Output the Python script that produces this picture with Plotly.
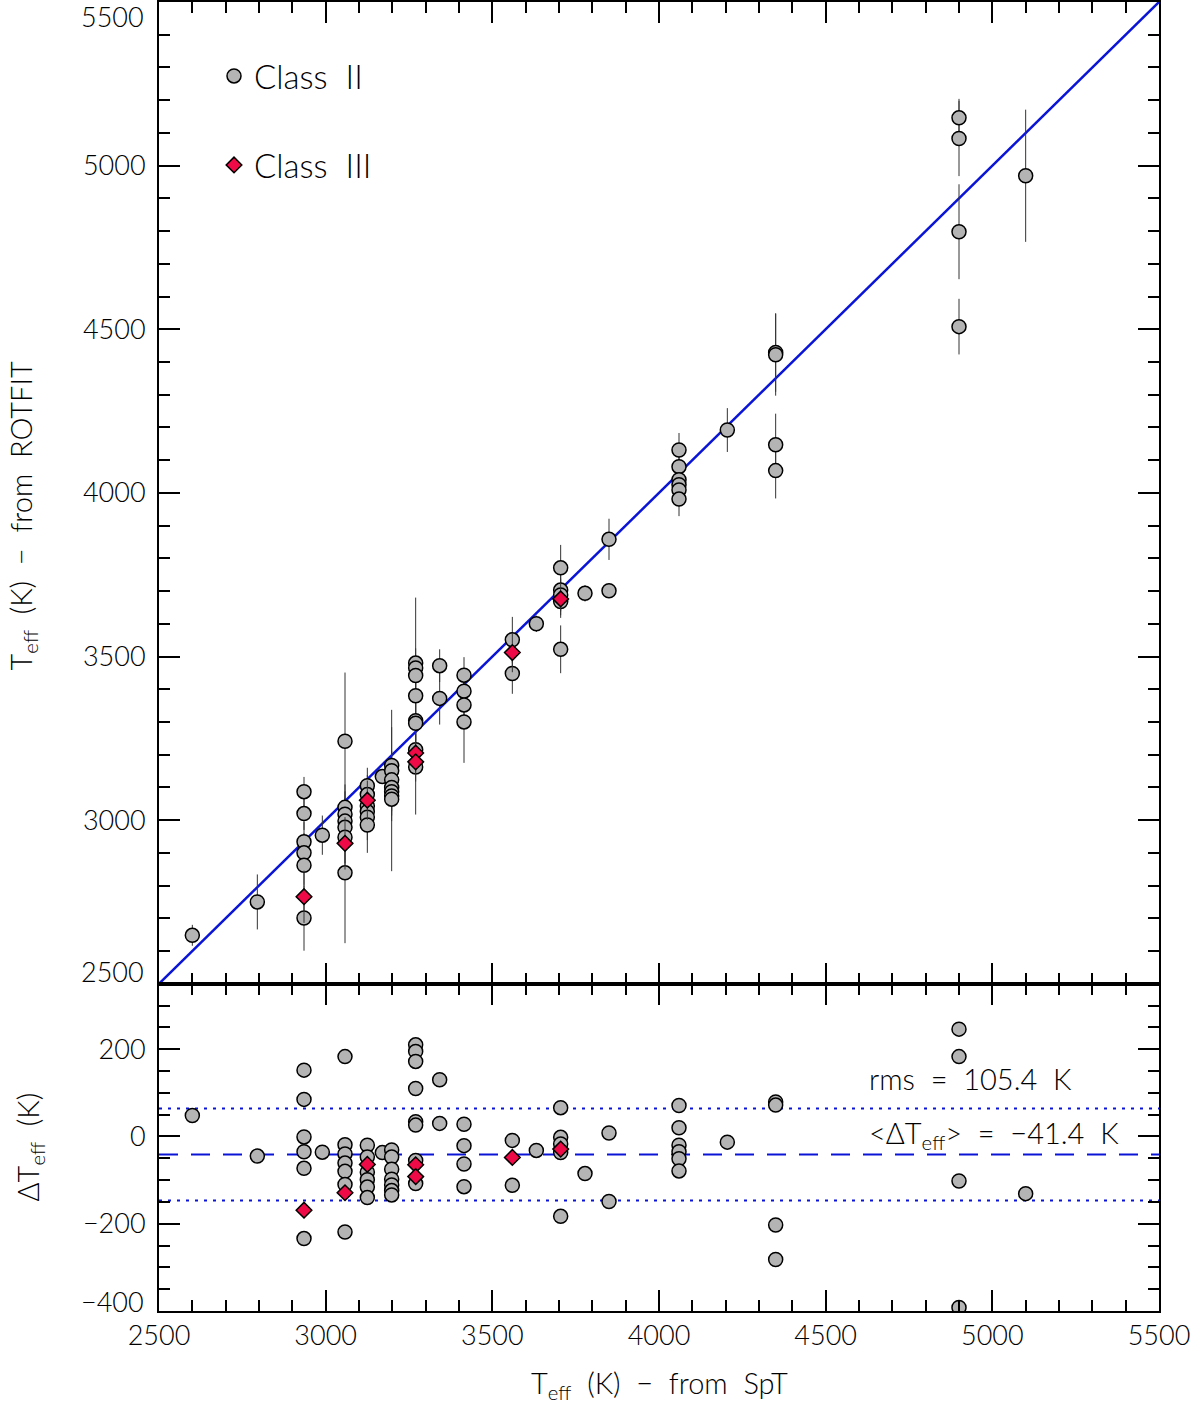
import numpy as np
import plotly.graph_objects as go
from plotly.subplots import make_subplots

# Teff from spectral type (x) and from ROTFIT (y), with ROTFIT errors
cls2_spt = [2600, 2795,
            2935, 2935, 2935, 2935, 2935, 2935,
            2990,
            3058, 3058, 3058, 3058, 3058, 3058, 3058,
            3125, 3125, 3125, 3125, 3125, 3125,
            3170,
            3198, 3198, 3198, 3198, 3198, 3198, 3198,
            3270, 3270, 3270, 3270, 3270, 3270, 3270, 3270,
            3342, 3342,
            3415, 3415, 3415, 3415,
            3560, 3560, 3632,
            3705, 3705, 3705, 3705, 3705,
            3778, 3850, 3850,
            4060, 4060, 4060, 4060, 4060, 4060,
            4205,
            4350, 4350, 4350, 4350,
            4900, 4900, 4900, 4900,
            5100]
cls2_rot = [2648, 2750,
            3087, 3020, 2934, 2900, 2862, 2701,
            2954,
            3241, 3039, 3018, 2997, 2978, 2948, 2839,
            3105, 3078, 3043, 3026, 3009, 2985,
            3133,
            3167, 3151, 3123, 3100, 3087, 3074, 3064,
            3480, 3465, 3442, 3380, 3304, 3296, 3215, 3162,
            3472, 3372,
            3443, 3394, 3352, 3300,
            3551, 3448, 3600,
            3771, 3703, 3688, 3668, 3522,
            3693, 3858, 3701,
            4131, 4080, 4040, 4025, 4009, 3981,
            4192,
            4429, 4422, 4147, 4068,
            5146, 5083, 4798, 4508,
            4969]
cls2_err = [32, 84,
            45, 50, 60, 60, 60, 100,
            60,
            210, 70, 70, 70, 70, 80, 215,
            55, 60, 60, 60, 70, 85,
            20,
            170, 60, 60, 60, 60, 60, 220,
            200, 60, 60, 60, 60, 60, 60, 145,
            50, 80,
            55, 60, 60, 125,
            70, 62, 25,
            70, 50, 50, 50, 73,
            25, 63, 15,
            52, 50, 50, 50, 50, 52,
            67,
            120, 125, 95, 85,
            58, 115, 145, 85,
            202]

cls3_spt = [2935, 3058, 3125, 3270, 3270, 3560, 3705]
cls3_rot = [2766, 2929, 3061, 3205, 3178, 3512, 3676]
cls3_err = [80, 80, 60, 60, 60, 60, 50]

mean_dt = -41.4
rms_dt = 105.4
t_range = [2500, 5500]
dt_range = [-400, 350]
t_ticks = [3000, 3500, 4000, 4500, 5000]
dt_ticks = [-200, 0, 200]

d2 = np.array(cls2_rot) - np.array(cls2_spt)
d3 = np.array(cls3_rot) - np.array(cls3_spt)

FONT = "Lato, 'DejaVu Sans', sans-serif"
BLUE = "#0a14d6"
GREY = "#b4b4b4"
RED = "#ee0a46"
SP = "\u00a0\u00a0"

fig = make_subplots(rows=2, cols=1, shared_xaxes=True, row_heights=[0.75, 0.25],
                    vertical_spacing=0)

# 1:1 line
fig.add_trace(go.Scatter(x=t_range, y=t_range, mode="lines",
                         line=dict(color=BLUE, width=2.5), showlegend=False), row=1, col=1)

circ = dict(symbol="circle", size=14, color=GREY, line=dict(color="black", width=1.5))
diam = dict(symbol="diamond", size=12, color=RED, line=dict(color="black", width=1.5))
ebar = dict(color="#333333", thickness=1, width=0)

fig.add_trace(go.Scatter(x=cls2_spt, y=cls2_rot, mode="markers", marker=circ,
                         error_y=dict(type="data", array=cls2_err, **ebar),
                         showlegend=False), row=1, col=1)
fig.add_trace(go.Scatter(x=cls3_spt, y=cls3_rot, mode="markers", marker=diam,
                         error_y=dict(type="data", array=cls3_err, **ebar),
                         showlegend=False), row=1, col=1)

# legend entries
fig.add_trace(go.Scatter(x=[None], y=[None], mode="markers", marker=circ,
                         name="Class" + SP + "II", legend="legend"), row=1, col=1)
fig.add_trace(go.Scatter(x=[None], y=[None], mode="markers", marker=diam,
                         name="Class" + SP + "III", legend="legend2"), row=1, col=1)

# residual panel: mean and +-rms
for yv, dash in [(mean_dt, "19px,13px"), (mean_dt + rms_dt, "3px,6px"),
                 (mean_dt - rms_dt, "3px,6px")]:
    fig.add_trace(go.Scatter(x=t_range, y=[yv, yv], mode="lines",
                             line=dict(color=BLUE, width=2, dash=dash),
                             showlegend=False), row=2, col=1)

fig.add_trace(go.Scatter(x=cls2_spt, y=d2, mode="markers", marker=circ,
                         showlegend=False), row=2, col=1)
fig.add_trace(go.Scatter(x=cls3_spt, y=d3, mode="markers", marker=diam,
                         showlegend=False), row=2, col=1)

tkfont = dict(family=FONT, size=27, color="black", weight=300)
ax = dict(showline=True, linecolor="black", linewidth=2, mirror="ticks",
          ticks="inside", ticklen=21, tickwidth=2, tickcolor="black",
          showgrid=False, zeroline=False, ticklabeloverflow="allow", automargin=False,
          tickfont=tkfont)

fig.update_xaxes(range=t_range, dtick=500, tick0=2500,
                 minor=dict(ticks="inside", ticklen=11, dtick=100, tickwidth=2,
                            tickcolor="black", showgrid=False), **ax)
fig.update_xaxes(showticklabels=False, row=1, col=1)
fig.update_yaxes(range=t_range, tickvals=t_ticks,
                 minor=dict(ticks="inside", ticklen=11, dtick=100, tick0=2500,
                            tickwidth=2, tickcolor="black", showgrid=False),
                 ticklabelstandoff=6, row=1, col=1, **ax)
fig.update_yaxes(range=dt_range, tickvals=dt_ticks,
                 minor=dict(ticks="inside", ticklen=11, dtick=50, tick0=0,
                            tickwidth=2, tickcolor="black", showgrid=False),
                 ticklabelstandoff=6, row=2, col=1, **ax)

# end-of-axis labels sit just inside the frame, as in the original
for yref, yv, shift in [("y", t_range[1], -14), ("y", t_range[0], 12), ("y2", dt_range[0], 10)]:
    fig.add_annotation(text=f"{yv}".replace("-", "\u2212"), xref="paper", yref=yref,
                       x=-0.013, y=yv, yshift=shift, showarrow=False, font=tkfont,
                       xanchor="right", yanchor="middle")

tfont = dict(family=FONT, size=29, color="black", weight=300)
fig.add_annotation(text="T<sub>eff</sub>" + SP + "(K)" + SP + "\u2212" + SP + "from" + SP + "ROTFIT",
                   xref="paper", yref="paper", x=-0.137, y=0.607, textangle=-90,
                   showarrow=False, font=tfont, xanchor="center", yanchor="middle")
fig.add_annotation(text="\u0394T<sub>eff</sub>" + SP + "(K)",
                   xref="paper", yref="paper", x=-0.130, y=0.125, textangle=-90,
                   showarrow=False, font=tfont, xanchor="center", yanchor="middle")
fig.add_annotation(text="T<sub>eff</sub>" + SP + "(K)" + SP + "\u2212" + SP + "from" + SP + "SpT",
                   xref="paper", yref="paper", x=0.5, y=-0.056,
                   showarrow=False, font=tfont, xanchor="center", yanchor="middle")
fig.add_annotation(text=f"rms{SP}={SP}{rms_dt}{SP}K",
                   xref="x2", yref="y2", x=4935, y=133,
                   showarrow=False, font=tfont, xanchor="center", yanchor="middle")
fig.add_annotation(text=f"&lt;\u0394T<sub>eff</sub>&gt;{SP}={SP}\u2212{abs(mean_dt)}{SP}K",
                   xref="x2", yref="y2", x=5005, y=5,
                   showarrow=False, font=tfont, xanchor="center", yanchor="middle")

lfont = dict(family=FONT, size=33, color="black", weight=300)
fig.update_layout(
    width=1200, height=1409,
    margin=dict(l=159, r=41, t=2, b=98, autoexpand=False),
    plot_bgcolor="white", paper_bgcolor="white",
    legend=dict(x=0.055, y=0.9435, xanchor="left", yanchor="middle",
                bgcolor="rgba(0,0,0,0)", font=lfont),
    legend2=dict(x=0.055, y=0.8755, xanchor="left", yanchor="middle",
                 bgcolor="rgba(0,0,0,0)", font=lfont),
)

fig.write_html("out.html", config={"displayModeBar": False},
               post_script="document.body.style.margin='0';")
